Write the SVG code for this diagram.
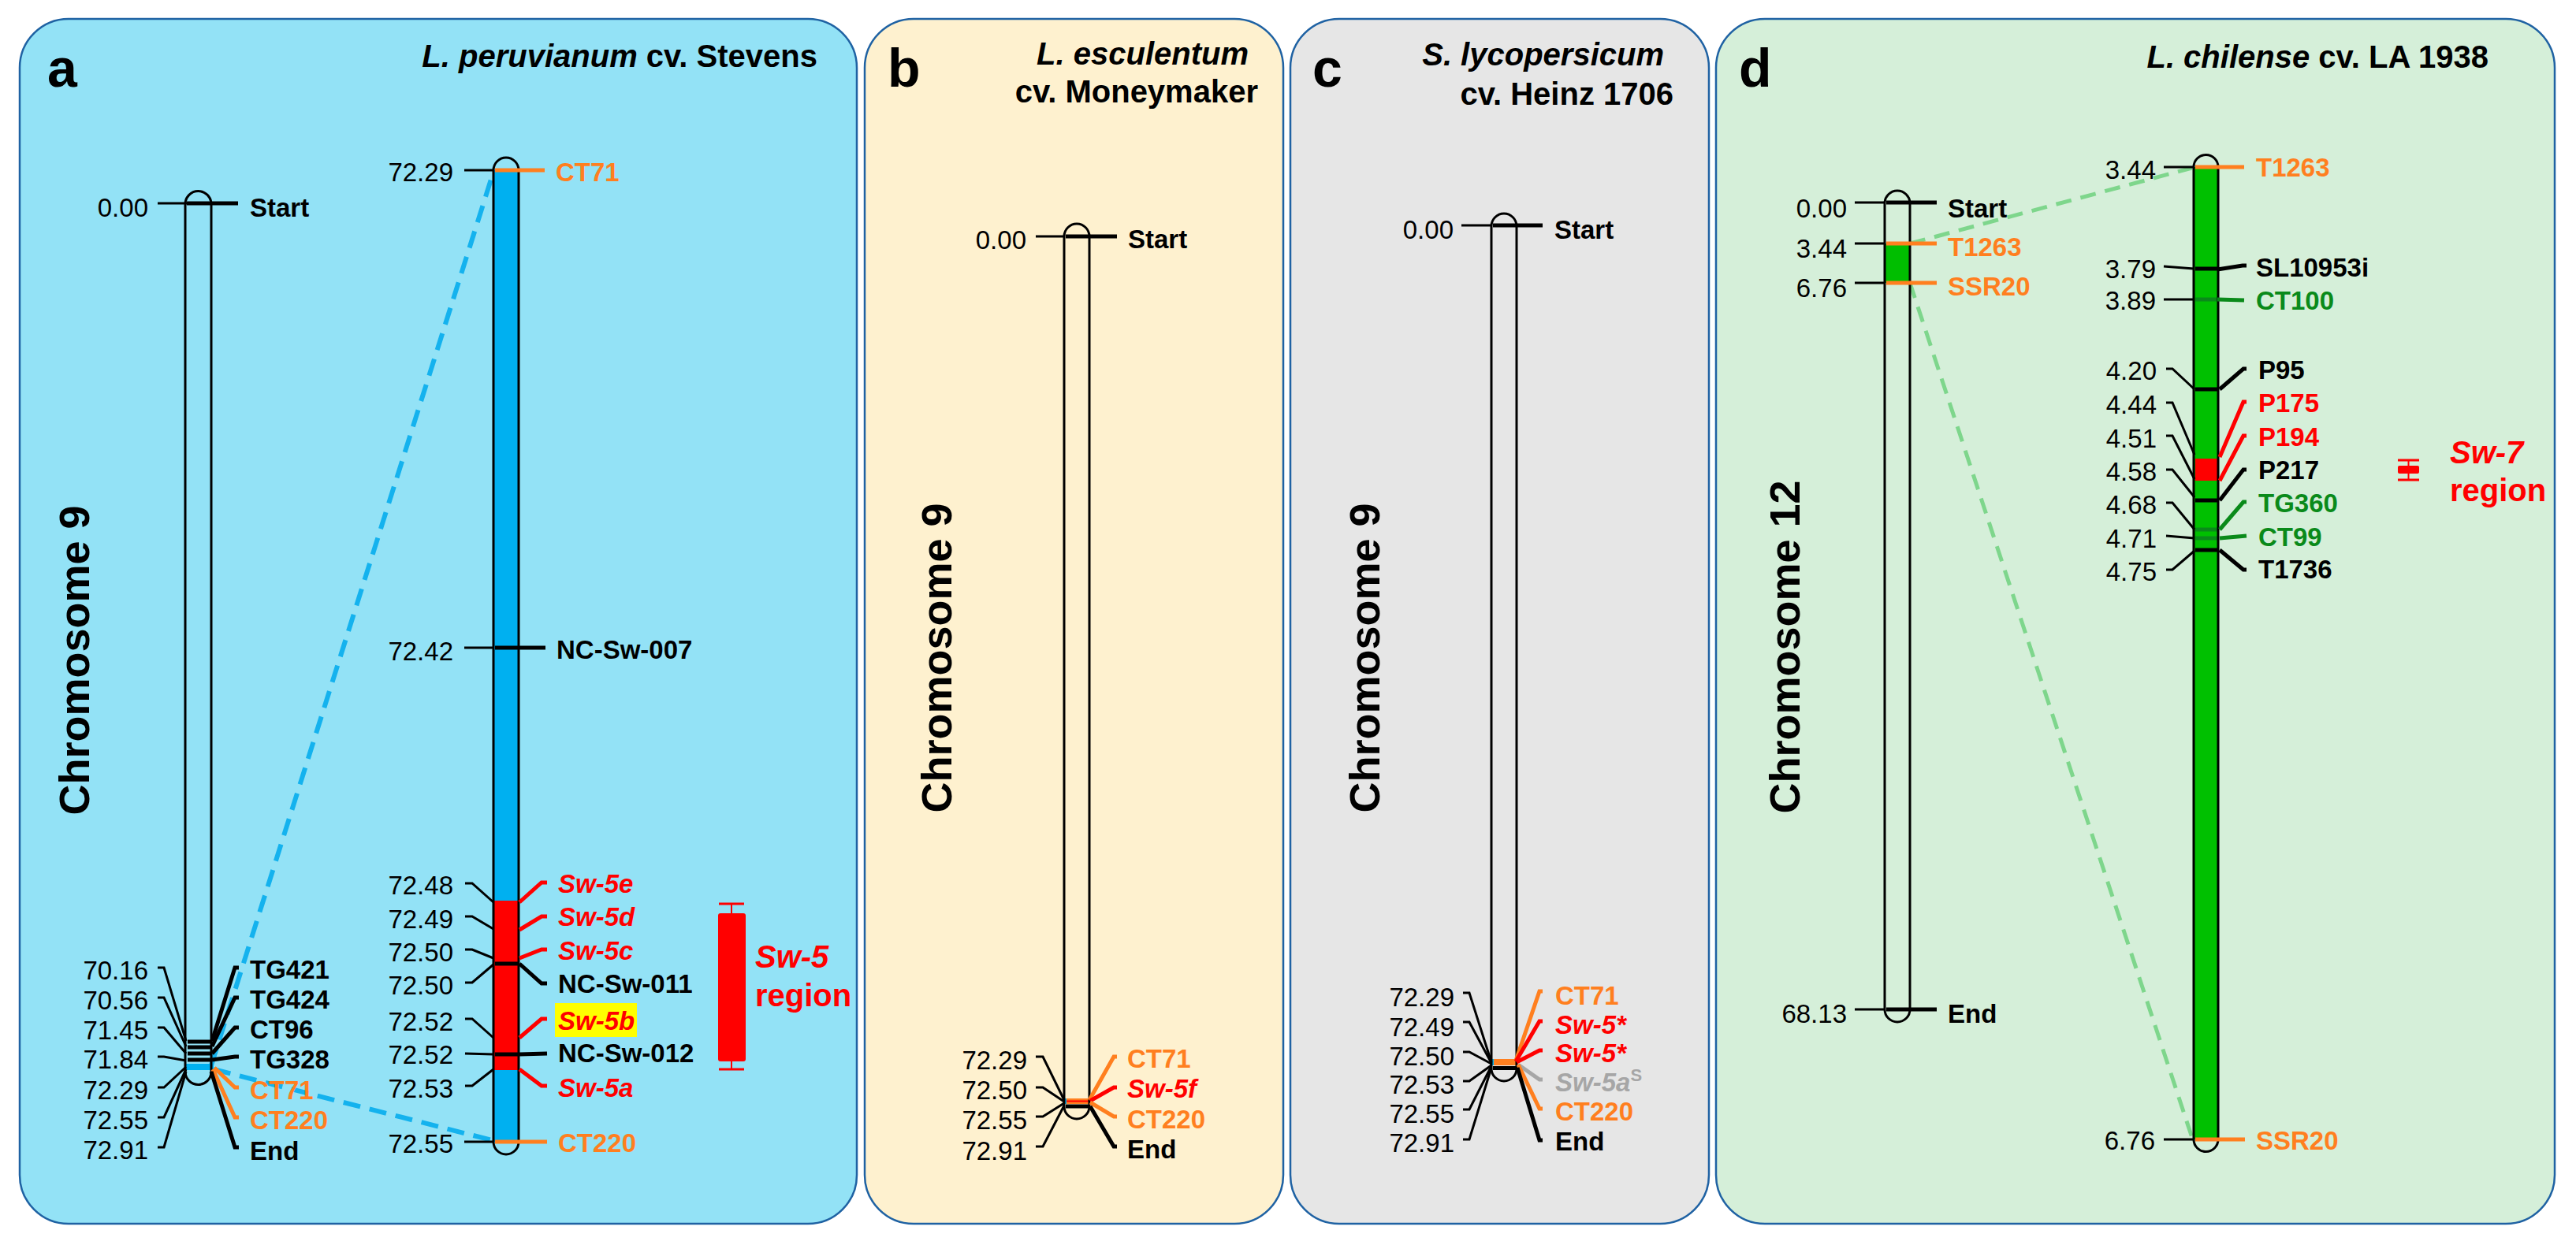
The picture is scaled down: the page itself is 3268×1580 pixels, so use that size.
<svg xmlns="http://www.w3.org/2000/svg" width="3268" height="1580" viewBox="0 0 3268 1580">
<style>
text{font-family:"Liberation Sans",Arial,sans-serif;fill:#000}
.n{font-size:33px}
.l{font-size:33px;font-weight:bold}
.i{font-style:italic}
.t{font-size:40px;font-weight:bold}
.pl{font-size:68px;font-weight:bold}
.ch{font-size:54px;font-weight:bold}
.rg{font-size:40px;font-weight:bold;fill:#FF0000}
.or{fill:#FF7F1F}
.rd{fill:#FF0000}
.gn{fill:#0A8A1A}
.gy{fill:#A6A6A6}
.panel{stroke:#1F62A3;stroke-width:2.5}
.chr{fill:none;stroke:#000;stroke-width:3}
.th{fill:none;stroke:#000;stroke-width:3}
.k{fill:none;stroke:#000;stroke-width:5}
.ko{fill:none;stroke:#FF7F1F;stroke-width:5}
.kr{fill:none;stroke:#FF0000;stroke-width:5}
.kg{fill:none;stroke:#0A8A1A;stroke-width:5}
.ky{fill:none;stroke:#A6A6A6;stroke-width:5}
.kb{fill:none;stroke:#00B0F0;stroke-width:5}
.dashb{fill:none;stroke:#14B2EE;stroke-width:6;stroke-dasharray:22 12}
.dashg{fill:none;stroke:#7ED68C;stroke-width:5;stroke-dasharray:20 12}
</style>

<g id="panels">
<rect id="panel-a" class="panel" x="25" y="24" width="1062" height="1529" rx="62" ry="62" fill="#93E2F6"/>
<rect id="panel-b" class="panel" x="1097" y="24" width="531" height="1529" rx="62" ry="62" fill="#FEF1CF"/>
<rect id="panel-c" class="panel" x="1637" y="24" width="531" height="1529" rx="62" ry="62" fill="#E6E6E6"/>
<rect id="panel-d" class="panel" x="2177" y="24" width="1064" height="1529" rx="62" ry="62" fill="#D5EFD9"/>
</g>

<g id="titles">
<text class="pl" x="60" y="110">a</text>
<text class="t" x="1037" y="85" text-anchor="end"><tspan class="i">L. peruvianum</tspan> cv. Stevens</text>
<text class="pl" x="1126" y="110">b</text>
<text class="t i" x="1584" y="82" text-anchor="end">L. esculentum</text>
<text class="t" x="1596" y="130" text-anchor="end">cv. Moneymaker</text>
<text class="pl" x="1665" y="110">c</text>
<text class="t i" x="2111" y="83" text-anchor="end">S. lycopersicum</text>
<text class="t" x="2123" y="133" text-anchor="end">cv. Heinz 1706</text>
<text class="pl" x="2206" y="110">d</text>
<text class="t" x="3157" y="86" text-anchor="end"><tspan class="i">L. chilense</tspan> cv. LA 1938</text>
<text class="ch" transform="translate(113 838) rotate(-90)" text-anchor="middle">Chromosome 9</text>
<text class="ch" transform="translate(1207 835) rotate(-90)" text-anchor="middle">Chromosome 9</text>
<text class="ch" transform="translate(1750 835) rotate(-90)" text-anchor="middle">Chromosome 9</text>
<text class="ch" transform="translate(2283 821) rotate(-90)" text-anchor="middle">Chromosome 12</text>
</g>

<g id="connectors">
<line class="dashb" x1="268" y1="1352" x2="626" y2="218"/>
<line class="dashb" x1="271" y1="1357" x2="624" y2="1447"/>
<line class="dashg" x1="2423" y1="309" x2="2781" y2="213"/>
<line class="dashg" x1="2423" y1="359" x2="2781" y2="1444"/>
</g>

<g id="chr-a-full">
<rect x="236" y="1350" width="35" height="8" fill="#00B0F0"/>
<path class="k" d="M238 1322H267M238 1329H267M238 1337H267M238 1345H267"/>
<path class="chr" d="M235 259L235 1360A16.5 16.5 0 0 0 268 1360L268 259A16.5 16.5 0 0 0 235 259Z"/>
<line class="th" x1="200" y1="258" x2="237" y2="258"/>
<line class="k" x1="237" y1="258" x2="302" y2="258"/>
<text class="n" x="188" y="275" text-anchor="end">0.00</text>
<text class="l" x="317" y="275">Start</text>
<polyline class="th" points="200,1228 208,1228 236,1321"/>
<polyline class="th" points="200,1266 208,1266 236,1328"/>
<polyline class="th" points="200,1304 208,1304 236,1337"/>
<polyline class="th" points="200,1341 208,1341 236,1346"/>
<polyline class="th" points="200,1380 208,1380 236,1354"/>
<polyline class="th" points="200,1418 208,1418 236,1357"/>
<polyline class="th" points="200,1456 208,1456 236,1360"/>
<polyline class="k" points="269,1321 298,1228 303,1228"/>
<polyline class="k" points="269,1328 298,1266 303,1266"/>
<polyline class="k" points="269,1337 298,1304 303,1304"/>
<polyline class="k" points="269,1345 298,1341 303,1341"/>
<polyline class="ko" points="272,1355 298,1380 303,1380"/>
<polyline class="ko" points="270,1357 298,1418 303,1418"/>
<polyline class="k" points="268,1360 298,1456 303,1456"/>
<text class="n" x="188" y="1243" text-anchor="end">70.16</text>
<text class="n" x="188" y="1281" text-anchor="end">70.56</text>
<text class="n" x="188" y="1319" text-anchor="end">71.45</text>
<text class="n" x="188" y="1356" text-anchor="end">71.84</text>
<text class="n" x="188" y="1395" text-anchor="end">72.29</text>
<text class="n" x="188" y="1433" text-anchor="end">72.55</text>
<text class="n" x="188" y="1471" text-anchor="end">72.91</text>
<text class="l" x="317" y="1242">TG421</text>
<text class="l" x="317" y="1280">TG424</text>
<text class="l" x="317" y="1318">CT96</text>
<text class="l" x="317" y="1356">TG328</text>
<text class="l or" x="317" y="1395">CT71</text>
<text class="l or" x="317" y="1433">CT220</text>
<text class="l" x="317" y="1472">End</text>
</g>

<g id="chr-a-zoom">
<rect x="626" y="216" width="32" height="1233" fill="#00B0F0"/>
<rect x="626" y="1143" width="32" height="215" fill="#FF0000"/>
<path class="k" d="M628 1223H657M628 1338H657"/>
<path class="chr" d="M626 216L626 1449A16 16 0 0 0 658 1449L658 216A16 16 0 0 0 626 216Z"/>
<line class="th" x1="589" y1="216" x2="626" y2="216"/>
<line class="ko" x1="628" y1="216" x2="691" y2="216"/>
<text class="n" x="575" y="230" text-anchor="end">72.29</text>
<text class="l or" x="705" y="230">CT71</text>
<line class="th" x1="589" y1="822" x2="626" y2="822"/>
<line class="k" x1="628" y1="822" x2="692" y2="822"/>
<text class="n" x="575" y="838" text-anchor="end">72.42</text>
<text class="l" x="706" y="836">NC-Sw-007</text>
<polyline class="th" points="590,1121 599,1121 626,1145"/>
<polyline class="th" points="590,1163 599,1163 626,1179"/>
<polyline class="th" points="590,1205 599,1205 626,1216"/>
<polyline class="th" points="590,1247 599,1247 626,1224"/>
<polyline class="th" points="590,1293 599,1293 626,1317"/>
<polyline class="th" points="590,1337 626,1338"/>
<polyline class="th" points="590,1378 599,1378 626,1357"/>
<polyline class="kr" points="659,1145 687,1120 694,1120"/>
<polyline class="kr" points="659,1180 687,1163 694,1163"/>
<polyline class="kr" points="659,1216 687,1205 694,1205"/>
<polyline class="k" points="659,1223 687,1248 694,1248"/>
<polyline class="kr" points="659,1317 687,1293 694,1293"/>
<polyline class="k" points="659,1338 694,1337"/>
<polyline class="kr" points="659,1357 687,1378 694,1378"/>
<line class="th" x1="589" y1="1449" x2="626" y2="1449"/>
<line class="ko" x1="628" y1="1449" x2="694" y2="1449"/>
<text class="n" x="575" y="1135" text-anchor="end">72.48</text>
<text class="n" x="575" y="1178" text-anchor="end">72.49</text>
<text class="n" x="575" y="1220" text-anchor="end">72.50</text>
<text class="n" x="575" y="1262" text-anchor="end">72.50</text>
<text class="n" x="575" y="1308" text-anchor="end">72.52</text>
<text class="n" x="575" y="1350" text-anchor="end">72.52</text>
<text class="n" x="575" y="1393" text-anchor="end">72.53</text>
<text class="n" x="575" y="1463" text-anchor="end">72.55</text>
<rect x="704" y="1273" width="104" height="43" fill="#FFFF00"/>
<text class="l i rd" x="708" y="1133">Sw-5e</text>
<text class="l i rd" x="708" y="1175">Sw-5d</text>
<text class="l i rd" x="708" y="1218">Sw-5c</text>
<text class="l" x="708" y="1260">NC-Sw-011</text>
<text class="l i rd" x="708" y="1307">Sw-5b</text>
<text class="l" x="708" y="1348">NC-Sw-012</text>
<text class="l i rd" x="708" y="1392">Sw-5a</text>
<text class="l or" x="708" y="1462">CT220</text>
</g>

<g id="sw5-region">
<rect x="911" y="1159" width="35" height="188" rx="3" fill="#FF0000"/>
<path fill="none" stroke="#FF0000" stroke-width="3" d="M912 1147H944M912 1357H944"/>
<path fill="none" stroke="#FF0000" stroke-width="2" d="M928 1147V1159M928 1347V1357"/>
<text class="rg i" x="958" y="1228">Sw-5</text>
<text class="rg" x="958" y="1277">region</text>
</g>

<g id="chr-b">
<rect x="1350" y="1394" width="3" height="7" fill="#00B0F0"/>
<rect x="1353" y="1394" width="29" height="7" fill="#FF7F1F"/>
<line x1="1353" y1="1397.5" x2="1382" y2="1397.5" stroke="#FF0000" stroke-width="2"/>
<line class="k" x1="1352" y1="1404" x2="1382" y2="1404"/>
<path class="chr" d="M1350 300L1350 1404A16 16 0 0 0 1382 1404L1382 300A16 16 0 0 0 1350 300Z"/>
<line class="th" x1="1314" y1="300" x2="1350" y2="300"/>
<line class="k" x1="1352" y1="300" x2="1417" y2="300"/>
<text class="n" x="1302" y="316" text-anchor="end">0.00</text>
<text class="l" x="1431" y="315">Start</text>
<polyline class="th" points="1314,1341 1323,1341 1350,1396"/>
<polyline class="th" points="1314,1380 1323,1380 1350,1398"/>
<polyline class="th" points="1314,1417 1323,1417 1350,1400"/>
<polyline class="th" points="1314,1455 1323,1455 1350,1403"/>
<polyline class="ko" points="1382,1396 1413,1341 1417,1341"/>
<polyline class="kr" points="1383,1397 1413,1380 1417,1380"/>
<polyline class="ko" points="1383,1399 1413,1417 1417,1417"/>
<polyline class="k" points="1383,1404 1413,1455 1417,1455"/>
<text class="n" x="1303" y="1357" text-anchor="end">72.29</text>
<text class="n" x="1303" y="1395" text-anchor="end">72.50</text>
<text class="n" x="1303" y="1433" text-anchor="end">72.55</text>
<text class="n" x="1303" y="1472" text-anchor="end">72.91</text>
<text class="l or" x="1430" y="1355">CT71</text>
<text class="l i rd" x="1430" y="1393">Sw-5f</text>
<text class="l or" x="1430" y="1432">CT220</text>
<text class="l" x="1430" y="1470">End</text>
</g>

<g id="chr-c">
<rect x="1892" y="1344" width="3" height="8" fill="#00B0F0"/>
<rect x="1895" y="1344" width="28" height="8" fill="#FF7F1F"/>
<line class="k" x1="1894" y1="1355.5" x2="1924" y2="1355.5"/>
<path class="chr" d="M1892 287L1892 1356A16 16 0 0 0 1924 1356L1924 287A16 16 0 0 0 1892 287Z"/>
<line class="th" x1="1854" y1="286" x2="1892" y2="286"/>
<line class="k" x1="1894" y1="286" x2="1957" y2="286"/>
<text class="n" x="1844" y="303" text-anchor="end">0.00</text>
<text class="l" x="1972" y="303">Start</text>
<polyline class="th" points="1856,1260 1864,1260 1892,1348"/>
<polyline class="th" points="1856,1297 1864,1297 1892,1349"/>
<polyline class="th" points="1856,1335 1864,1335 1892,1350"/>
<polyline class="th" points="1856,1372 1864,1372 1892,1352"/>
<polyline class="th" points="1856,1408 1864,1408 1892,1353"/>
<polyline class="th" points="1856,1446 1864,1446 1892,1355"/>
<polyline class="ko" points="1923,1346 1953,1258 1957,1258"/>
<polyline class="kr" points="1923,1347 1953,1296 1957,1296"/>
<polyline class="kr" points="1924,1348 1953,1333 1957,1333"/>
<polyline class="ky" points="1926,1351 1953,1370 1957,1370"/>
<polyline class="ko" points="1926,1351 1953,1407 1957,1407"/>
<polyline class="k" points="1925,1355 1953,1447 1957,1447"/>
<text class="n" x="1845" y="1277" text-anchor="end">72.29</text>
<text class="n" x="1845" y="1315" text-anchor="end">72.49</text>
<text class="n" x="1845" y="1352" text-anchor="end">72.50</text>
<text class="n" x="1845" y="1388" text-anchor="end">72.53</text>
<text class="n" x="1845" y="1425" text-anchor="end">72.55</text>
<text class="n" x="1845" y="1462" text-anchor="end">72.91</text>
<text class="l or" x="1973" y="1275">CT71</text>
<text class="l i rd" x="1973" y="1312">Sw-5*</text>
<text class="l i rd" x="1973" y="1348">Sw-5*</text>
<text class="l i gy" x="1973" y="1385">Sw-5a<tspan font-size="22" font-style="normal" dy="-13">S</tspan></text>
<text class="l or" x="1973" y="1422">CT220</text>
<text class="l" x="1973" y="1460">End</text>
</g>

<g id="chr-d-full">
<rect x="2391" y="309" width="32" height="50" fill="#00BE00"/>
<path class="chr" d="M2391 258L2391 1281A16 16 0 0 0 2423 1281L2423 258A16 16 0 0 0 2391 258Z"/>
<line class="th" x1="2353" y1="257" x2="2391" y2="257"/>
<line class="k" x1="2393" y1="257" x2="2457" y2="257"/>
<line class="th" x1="2353" y1="309" x2="2391" y2="309"/>
<line class="ko" x1="2393" y1="309" x2="2457" y2="309"/>
<line class="th" x1="2353" y1="359" x2="2391" y2="359"/>
<line class="ko" x1="2393" y1="359" x2="2457" y2="359"/>
<line class="th" x1="2353" y1="1281" x2="2391" y2="1281"/>
<line class="k" x1="2393" y1="1281" x2="2457" y2="1281"/>
<text class="n" x="2343" y="276" text-anchor="end">0.00</text>
<text class="n" x="2343" y="327" text-anchor="end">3.44</text>
<text class="n" x="2343" y="377" text-anchor="end">6.76</text>
<text class="n" x="2343" y="1298" text-anchor="end">68.13</text>
<text class="l" x="2471" y="276">Start</text>
<text class="l or" x="2471" y="325">T1263</text>
<text class="l or" x="2471" y="375">SSR20</text>
<text class="l" x="2471" y="1298">End</text>
</g>

<g id="chr-d-zoom">
<rect x="2783" y="212" width="31" height="1234" fill="#00C000"/>
<rect x="2785" y="582" width="28" height="28" fill="#FF0000"/>
<path class="k" d="M2785 341H2813M2785 494H2814M2785 635H2814M2785 698H2814"/>
<path class="kg" d="M2785 380H2813M2785 672H2813M2785 683H2813"/>
<path class="chr" d="M2783 212L2783 1446A15.5 15.5 0 0 0 2814 1446L2814 212A15.5 15.5 0 0 0 2783 212Z"/>
<line class="th" x1="2745" y1="212" x2="2783" y2="212"/>
<line class="ko" x1="2785" y1="212" x2="2847" y2="212"/>
<polyline class="th" points="2745,338 2783,341"/>
<polyline class="k" points="2813,342 2845,337 2850,337"/>
<polyline class="th" points="2745,380 2783,380"/>
<polyline class="kg" points="2813,380 2847,381"/>
<polyline class="th" points="2748,468 2756,468 2784,494"/>
<polyline class="k" points="2816,494 2846,468 2850,468"/>
<polyline class="th" points="2748,511 2756,511 2784,577"/>
<polyline class="kr" points="2816,580 2846,510 2850,510"/>
<polyline class="th" points="2748,553 2756,553 2784,608"/>
<polyline class="kr" points="2816,610 2846,553 2850,553"/>
<polyline class="th" points="2748,596 2756,596 2784,631"/>
<polyline class="k" points="2816,635 2846,596 2850,596"/>
<polyline class="th" points="2748,638 2756,638 2784,672"/>
<polyline class="kg" points="2816,672 2846,637 2850,637"/>
<polyline class="th" points="2748,680 2784,683"/>
<polyline class="kg" points="2816,683 2850,680"/>
<polyline class="th" points="2748,723 2756,723 2784,699"/>
<polyline class="k" points="2816,698 2846,723 2850,723"/>
<line class="th" x1="2745" y1="1446" x2="2783" y2="1446"/>
<line class="ko" x1="2785" y1="1446" x2="2848" y2="1446"/>
<text class="n" x="2735" y="227" text-anchor="end">3.44</text>
<text class="n" x="2735" y="353" text-anchor="end">3.79</text>
<text class="n" x="2735" y="393" text-anchor="end">3.89</text>
<text class="n" x="2736" y="482" text-anchor="end">4.20</text>
<text class="n" x="2736" y="525" text-anchor="end">4.44</text>
<text class="n" x="2736" y="568" text-anchor="end">4.51</text>
<text class="n" x="2736" y="610" text-anchor="end">4.58</text>
<text class="n" x="2736" y="652" text-anchor="end">4.68</text>
<text class="n" x="2736" y="695" text-anchor="end">4.71</text>
<text class="n" x="2736" y="737" text-anchor="end">4.75</text>
<text class="n" x="2734" y="1459" text-anchor="end">6.76</text>
<text class="l or" x="2862" y="224">T1263</text>
<text class="l" x="2862" y="351">SL10953i</text>
<text class="l gn" x="2862" y="393">CT100</text>
<text class="l" x="2865" y="481">P95</text>
<text class="l rd" x="2865" y="523">P175</text>
<text class="l rd" x="2865" y="566">P194</text>
<text class="l" x="2865" y="608">P217</text>
<text class="l gn" x="2865" y="650">TG360</text>
<text class="l gn" x="2865" y="693">CT99</text>
<text class="l" x="2865" y="734">T1736</text>
<text class="l or" x="2862" y="1459">SSR20</text>
</g>

<g id="sw7-region">
<rect x="3042" y="591" width="27" height="10" rx="2" fill="#FF0000"/>
<path fill="none" stroke="#FF0000" stroke-width="3" d="M3042 584H3069M3042 609H3069"/>
<path fill="none" stroke="#FF0000" stroke-width="2" d="M3055.5 584V591M3055.5 601V609"/>
<text class="rg i" x="3108" y="588">Sw-7</text>
<text class="rg" x="3108" y="636">region</text>
</g>
</svg>
